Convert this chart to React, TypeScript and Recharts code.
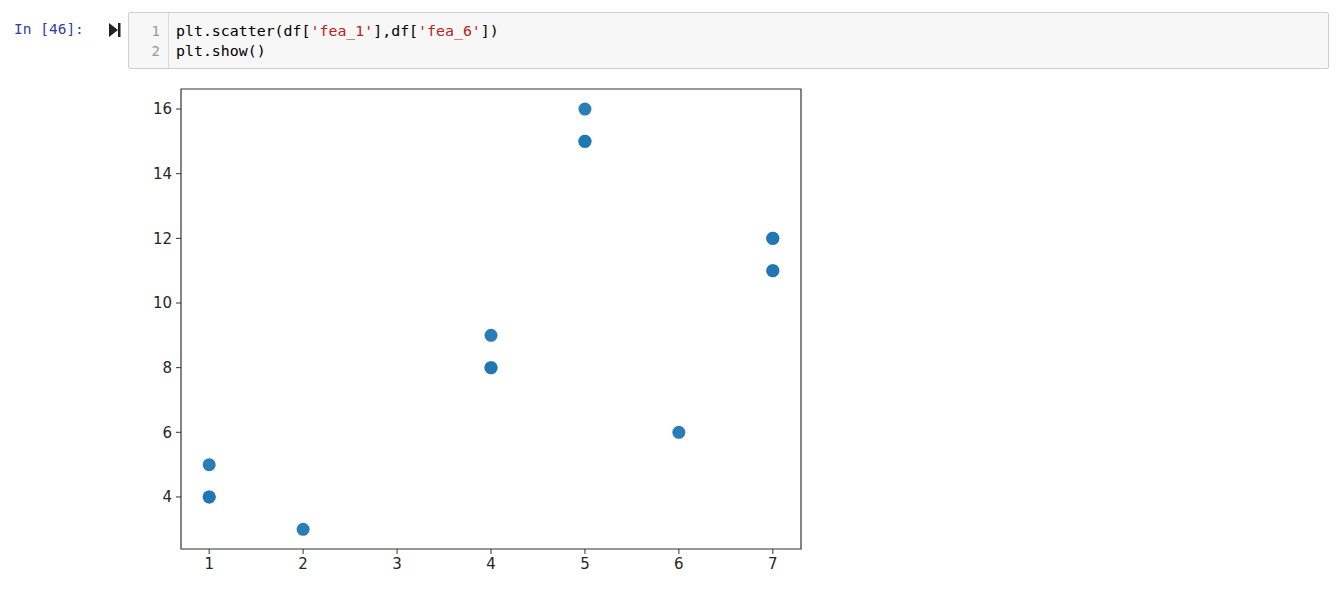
import React from 'react'
import { ScatterChart, Scatter, XAxis, YAxis, ReferenceArea } from 'recharts'

// fea_1 / fea_6 pairs (duplicates kept, they darken the dot)
const fea1 = [1, 1, 1, 2, 4, 4, 4, 5, 5, 5, 6, 7, 7, 7, 7]
const fea6 = [5, 4, 4, 3, 9, 8, 8, 16, 15, 15, 6, 12, 12, 11, 11]
const xTicks = [1, 2, 3, 4, 5, 6, 7]
const yTicks = [4, 6, 8, 10, 12, 14, 16]
const xDomain = [0.7, 7.3]
const yDomain = [2.39, 16.62]

const points = fea1.map((x, i) => ({ x, y: fea6[i] }))

const mono = '"DejaVu Sans Mono", "Liberation Mono", monospace'
const tickStyle = { fill: '#262626', fontSize: 15, fontFamily: '"DejaVu Sans", sans-serif' }

function Dot(props: any) {
  return <circle cx={props.cx} cy={props.cy} r={6.5} fill="#1f77b4" fillOpacity={0.95} />
}

function RunIcon() {
  return (
    <svg width={14} height={16} style={{ position: 'absolute', left: 108, top: 22 }}>
      <polygon points="1,1 10,8 1,15" fill="#222" />
      <rect x={10} y={1} width={2.5} height={14} fill="#222" />
    </svg>
  )
}

export default function App() {
  return (
    <div style={{ position: 'absolute', left: 0, top: 0, width: 1342, height: 600, background: '#fff' }}>
      {/* prompt */}
      <div style={{ position: 'absolute', left: 14, top: 19, fontFamily: mono, fontSize: 14.5, color: '#303F9F', lineHeight: '20px' }}>
        In [46]:
      </div>
      <RunIcon />
      {/* code cell */}
      <div style={{ position: 'absolute', left: 128, top: 12, width: 1199, height: 55, background: '#f7f7f7', border: '1px solid #cfcfcf', borderRadius: 2 }}>
        <div style={{ position: 'absolute', left: 0, top: 0, width: 40, height: 55, borderRight: '1px solid #dcdcdc', fontFamily: mono, fontSize: 14, color: '#999', textAlign: 'right', lineHeight: '20px', paddingTop: 8, boxSizing: 'border-box', paddingRight: 8 }}>
          <div>1</div>
          <div>2</div>
        </div>
        <div style={{ position: 'absolute', left: 47, top: 8, fontFamily: mono, fontSize: 14.9, color: '#000', lineHeight: '20px', whiteSpace: 'pre' }}>
          <div>
            plt.scatter(df[<span style={{ color: '#BA2121' }}>'fea_1'</span>],df[<span style={{ color: '#BA2121' }}>'fea_6'</span>])
          </div>
          <div>plt.show()</div>
        </div>
      </div>
      {/* figure */}
      <div style={{ position: 'absolute', left: 0, top: 0 }}>
        <ScatterChart width={820} height={600} margin={{ top: 89, right: 19, bottom: 21, left: 131 }}>
          <XAxis
            type="number"
            dataKey="x"
            domain={xDomain}
            ticks={xTicks}
            allowDataOverflow
            axisLine={false}
            tickSize={5}
            tickMargin={4}
            tickLine={{ stroke: '#333' }}
            tick={tickStyle}
            height={30}
          />
          <YAxis
            type="number"
            dataKey="y"
            domain={yDomain}
            ticks={yTicks}
            allowDataOverflow
            axisLine={false}
            tickSize={5}
            tickMargin={4}
            tickLine={{ stroke: '#333' }}
            tick={tickStyle}
            width={50}
          />
          <ReferenceArea x1={xDomain[0]} x2={xDomain[1]} y1={yDomain[0]} y2={yDomain[1]} fill="none" stroke="#333" strokeWidth={1.2} fillOpacity={0} />
          <Scatter data={points} shape={<Dot />} isAnimationActive={false} />
        </ScatterChart>
      </div>
    </div>
  )
}
